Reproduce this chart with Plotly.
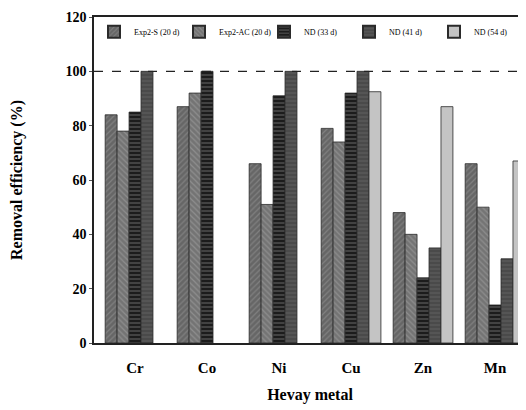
import plotly.graph_objects as go

metals = ["Cr", "Co", "Ni", "Cu", "Zn", "Mn"]
series_names = ["Exp2-S (20 d)", "Exp2-AC (20 d)", "ND (33 d)", "ND (41 d)", "ND (54 d)"]
exp2_s = [84, 87, 66, 79, 48, 66]
exp2_ac = [78, 92, 51, 74, 40, 50]
nd_33 = [85, 100, 91, 92, 24, 14]
nd_41 = [100, None, 100, 100, 35, 31]
nd_54 = [None, None, None, 92.5, 87, 67]
y_ticks = [0, 20, 40, 60, 80, 100, 120]

series_values = [exp2_s, exp2_ac, nd_33, nd_41, nd_54]
styles = [
    dict(color="#666666", pattern=dict(shape="/", fgcolor="#9a9a9a", size=4, solidity=0.3)),
    dict(color="#747474", pattern=dict(shape="\\", fgcolor="#a8a8a8", size=4, solidity=0.3)),
    dict(color="#1c1c1c", pattern=dict(shape="-", fgcolor="#8a8a8a", size=4, solidity=0.35)),
    dict(color="#555555", pattern=dict(shape="-", fgcolor="#3a3a3a", size=4, solidity=0.4)),
    dict(color="#c4c4c4"),
]

fig = go.Figure()
for name, vals, st in zip(series_names, series_values, styles):
    fig.add_trace(go.Bar(
        x=metals, y=vals, name=name,
        marker=dict(line=dict(color="#2a2a2a", width=0.8), **st),
    ))

serif = "Liberation Serif, Times New Roman, serif"
fig.update_layout(
    width=526, height=410,
    margin=dict(l=86, r=8, t=9, b=75, autoexpand=False),
    paper_bgcolor="white", plot_bgcolor="white",
    barmode="group", bargap=0.17, bargroupgap=0,
    font=dict(family=serif, color="black"),
    showlegend=True,
    legend=dict(
        orientation="h", x=0.0, y=0.955, xanchor="left", yanchor="middle",
        font=dict(size=8, family=serif), bgcolor="rgba(0,0,0,0)",
        entrywidth=40, itemsizing="constant", itemwidth=30,
    ),
    xaxis=dict(
        range=[-0.57, 5.43], showline=True, linecolor="#222", linewidth=1.5,
        mirror=True, ticks="", showgrid=False, automargin=False, ticklabelstandoff=10,
        tickfont=dict(size=15, family=serif, color="black", weight="bold"),
        title=dict(text="<b>Hevay metal</b>", font=dict(size=16, family=serif), standoff=14),
    ),
    yaxis=dict(
        range=[0, 120], tickvals=y_ticks, showline=True, linecolor="#222", linewidth=1.5,
        ticks="outside", ticklen=3, tickcolor="#555", showgrid=False, zeroline=False,
        automargin=False,
        tickfont=dict(size=14, family=serif, color="black", weight="bold"),
        title=dict(text="<b>Removal efficiency (%)</b>", font=dict(size=16, family=serif), standoff=40),
    ),
)
fig.add_hline(y=100, line=dict(color="#222", width=1.3, dash="dash"))
fig.write_html("out.html")
